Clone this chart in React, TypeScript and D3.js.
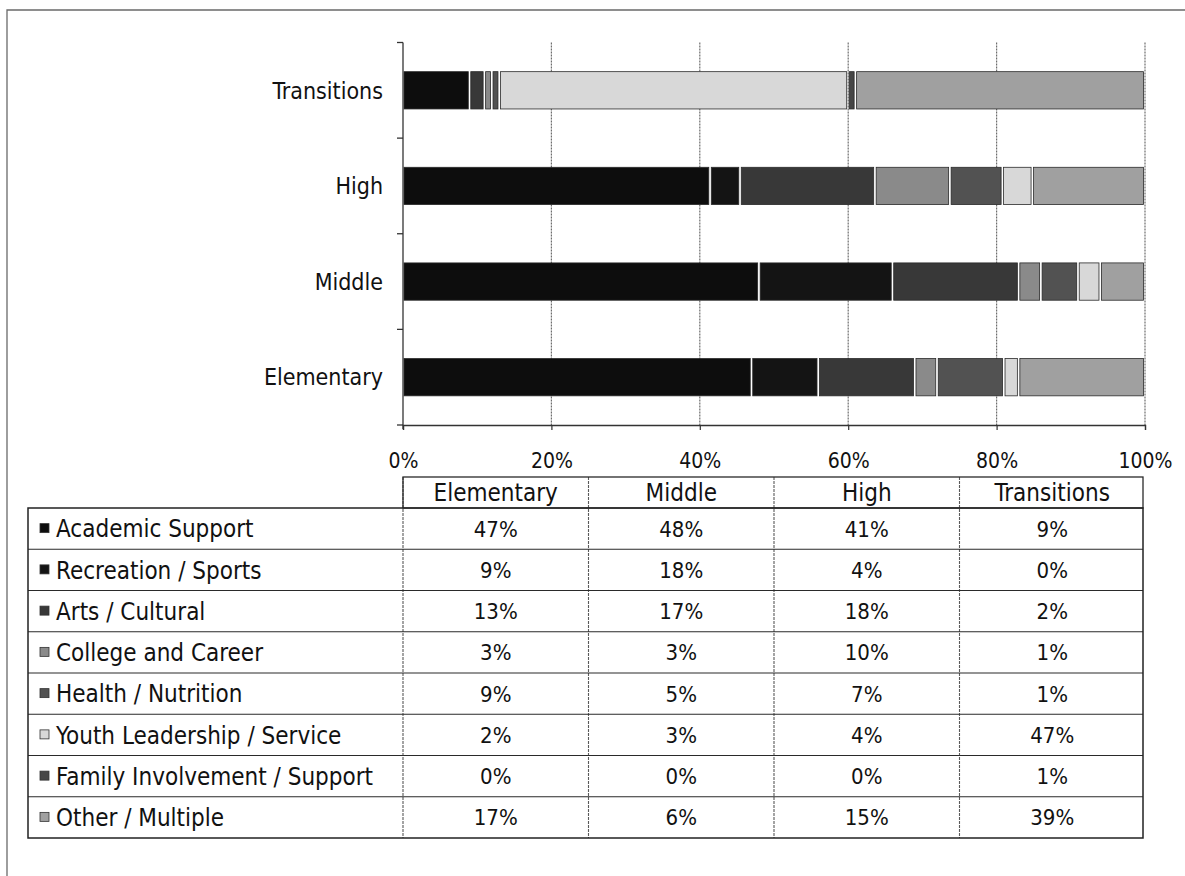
import React, { useEffect, useRef } from "react";
import * as d3 from "d3";

const categories = ["Elementary", "Middle", "High", "Transitions"];
const seriesNames = [
  "Academic Support",
  "Recreation / Sports",
  "Arts / Cultural",
  "College and Career",
  "Health / Nutrition",
  "Youth Leadership / Service",
  "Family Involvement / Support",
  "Other / Multiple",
];
const academicSupport = [47, 48, 41, 9];
const recreationSports = [9, 18, 4, 0];
const artsCultural = [13, 17, 18, 2];
const collegeCareer = [3, 3, 10, 1];
const healthNutrition = [9, 5, 7, 1];
const youthLeadership = [2, 3, 4, 47];
const familyInvolvement = [0, 0, 0, 1];
const otherMultiple = [17, 6, 15, 39];
const tickValues = [0, 0.2, 0.4, 0.6, 0.8, 1];
const seriesColors = ["#0d0d0d", "#141414", "#383838", "#8a8a8a", "#525252", "#d8d8d8", "#464646", "#a0a0a0"];

const FONT = "'DejaVu Sans Condensed', 'DejaVu Sans', sans-serif";

const Chart = () => {
  const ref = useRef<SVGSVGElement>(null);

  useEffect(() => {
    const svg = d3.select(ref.current);
    svg.selectAll("*").remove();

    const W = 1185, H = 876;
    const plot = { left: 403, right: 1145, top: 42.5, bottom: 425 };

    const values = [
      academicSupport, recreationSports, artsCultural, collegeCareer,
      healthNutrition, youthLeadership, familyInvolvement, otherMultiple,
    ];
    const rows = categories.map((c, i) => {
      const o: any = { category: c };
      seriesNames.forEach((s, j) => (o[s] = values[j][i]));
      return o;
    });
    const series = d3.stack().keys(seriesNames).offset(d3.stackOffsetExpand)(rows);

    const x = d3.scaleLinear().domain([0, 1]).range([plot.left, plot.right]);
    const y = d3.scaleBand()
      .domain([...categories].reverse())
      .range([plot.top, plot.bottom])
      .paddingInner(0.61)
      .paddingOuter(0.305);
    const color = d3.scaleOrdinal<string>().domain(seriesNames).range(seriesColors);

    // page frame (top + left only, as scanned)
    svg.append("path")
      .attr("d", `M7,${H} V10 H${W}`)
      .attr("fill", "none")
      .attr("stroke", "#6a6a6a")
      .attr("stroke-width", 1.3);

    // gridlines
    svg.append("g")
      .selectAll("line")
      .data(tickValues.slice(1))
      .join("line")
      .attr("x1", (d) => x(d))
      .attr("x2", (d) => x(d))
      .attr("y1", plot.top)
      .attr("y2", plot.bottom)
      .attr("stroke", "#6e6e6e")
      .attr("stroke-width", 1.2)
      .attr("stroke-dasharray", "2,1");

    // bars
    svg.append("g")
      .selectAll("g")
      .data(series)
      .join("g")
      .attr("fill", (d) => color(d.key))
      .selectAll("rect")
      .data((d) => d.filter((p) => p[1] - p[0] > 0))
      .join("rect")
      .attr("x", (d) => x(d[0]) + 1)
      .attr("y", (d: any) => y(d.data.category))
      .attr("width", (d) => Math.max(0.8, x(d[1]) - x(d[0]) - 2.5))
      .attr("height", y.bandwidth())
      .attr("stroke", "#2a2a2a")
      .attr("stroke-width", 0.8);

    // y axis with ticks on band boundaries
    const yAxis = svg.append("g").attr("stroke", "#333").attr("stroke-width", 1.3);
    yAxis.append("line")
      .attr("x1", plot.left).attr("x2", plot.left)
      .attr("y1", plot.top).attr("y2", plot.bottom + 4);
    yAxis.selectAll("line.tick")
      .data(d3.range(categories.length + 1).map((i) => plot.top + i * y.step()))
      .join("line")
      .attr("class", "tick")
      .attr("x1", plot.left - 6).attr("x2", plot.left)
      .attr("y1", (d) => d).attr("y2", (d) => d);

    svg.append("g")
      .selectAll("text")
      .data(categories)
      .join("text")
      .attr("x", plot.left - 20)
      .attr("y", (d) => y(d)! + y.bandwidth() / 2)
      .attr("dy", "0.36em")
      .attr("text-anchor", "end")
      .attr("font-family", FONT)
      .attr("font-size", 23)
      .attr("fill", "#111")
      .text((d) => d);

    // x axis
    const xAxis = svg.append("g")
      .attr("transform", `translate(0,${plot.bottom})`)
      .call(d3.axisBottom(x).tickValues(tickValues).tickFormat(d3.format(".0%")).tickSize(5).tickPadding(23));
    xAxis.select(".domain").attr("stroke", "#333").attr("stroke-width", 1.3);
    xAxis.selectAll(".tick line").attr("stroke", "#333").attr("stroke-width", 1.2);
    xAxis.selectAll(".tick text")
      .attr("font-family", FONT)
      .attr("font-size", 21)
      .attr("fill", "#111");

    // data table
    const tableLeft = 28, tableTop = 477, headerH = 31, rowH = 41.25;
    const colW = (x(1) - x(0)) / categories.length;
    const bodyTop = tableTop + headerH;
    const tableBottom = bodyTop + rowH * seriesNames.length;
    const tableRight = x(1) - 2;
    const table = svg.append("g");

    // vertical dividers
    table.selectAll("line.v")
      .data(d3.range(categories.length).map((i) => x(0) + colW * i))
      .join("line")
      .attr("class", "v")
      .attr("x1", (d) => d).attr("x2", (d) => d)
      .attr("y1", tableTop).attr("y2", tableBottom)
      .attr("stroke", "#5a5a5a")
      .attr("stroke-width", 1.1)
      .attr("stroke-dasharray", "3,1");

    // horizontal row lines
    table.selectAll("line.h")
      .data(d3.range(1, seriesNames.length).map((i) => bodyTop + rowH * i))
      .join("line")
      .attr("class", "h")
      .attr("x1", tableLeft).attr("x2", tableRight)
      .attr("y1", (d) => d).attr("y2", (d) => d)
      .attr("stroke", "#2a2a2a")
      .attr("stroke-width", 1.2);

    // header box and body box
    table.append("rect")
      .attr("x", x(0)).attr("y", tableTop)
      .attr("width", tableRight - x(0)).attr("height", headerH)
      .attr("fill", "none").attr("stroke", "#2a2a2a").attr("stroke-width", 1.3);
    table.append("rect")
      .attr("x", tableLeft).attr("y", bodyTop)
      .attr("width", tableRight - tableLeft).attr("height", tableBottom - bodyTop)
      .attr("fill", "none").attr("stroke", "#222").attr("stroke-width", 1.5);

    table.selectAll("text.head")
      .data(categories)
      .join("text")
      .attr("class", "head")
      .attr("x", (d, i) => x(0) + colW * (i + 0.5))
      .attr("y", tableTop + headerH / 2)
      .attr("dy", "0.36em")
      .attr("text-anchor", "middle")
      .attr("font-family", FONT)
      .attr("font-size", 24)
      .attr("fill", "#111")
      .text((d) => d);

    const rowG = table.selectAll("g.row")
      .data(seriesNames)
      .join("g")
      .attr("class", "row")
      .attr("transform", (d, i) => `translate(0,${bodyTop + rowH * (i + 0.5)})`);

    rowG.append("rect")
      .attr("x", 40).attr("y", -5)
      .attr("width", 9).attr("height", 9)
      .attr("fill", (d) => color(d))
      .attr("stroke", "#333").attr("stroke-width", 0.8);

    rowG.append("text")
      .attr("x", 56)
      .attr("dy", "0.36em")
      .attr("font-family", FONT)
      .attr("font-size", 24)
      .attr("fill", "#111")
      .text((d) => d);

    rowG.selectAll("text.val")
      .data((d, j) => values[j].map((v) => `${v}%`))
      .join("text")
      .attr("class", "val")
      .attr("x", (d, i) => x(0) + colW * (i + 0.5))
      .attr("dy", "0.36em")
      .attr("text-anchor", "middle")
      .attr("font-family", FONT)
      .attr("font-size", 22)
      .attr("fill", "#111")
      .text((d) => d);
  }, []);

  return (
    <svg
      ref={ref}
      width={1185}
      height={876}
      style={{ position: "absolute", left: 0, top: 0, background: "#fff" }}
    />
  );
};

export default function App() {
  return <Chart />;
}
